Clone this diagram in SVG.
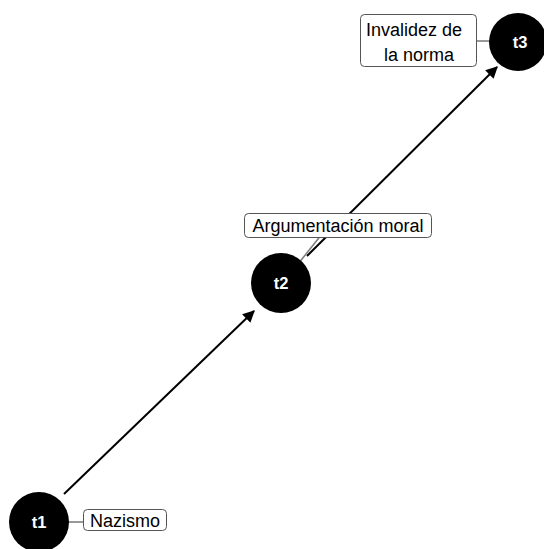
<svg xmlns="http://www.w3.org/2000/svg" width="544" height="549" viewBox="0 0 544 549">
<style>
.node{fill:#000}
.nl{fill:#fff;font-family:"Liberation Sans",Arial,sans-serif;font-weight:bold;font-size:16.5px;text-anchor:middle;dominant-baseline:central}
.edge{stroke:#000;stroke-width:2;fill:none}
.lead{stroke:#7f7f7f;stroke-width:1.6;fill:none}
.box{fill:#fff;stroke:#555;stroke-width:1}
.lt{font-family:"Liberation Sans",Arial,sans-serif;font-size:18px;fill:#000}
</style>
<defs>
<marker id="ah" viewBox="0 0 10 10" refX="9" refY="5" markerWidth="6" markerHeight="6" orient="auto" markerUnits="strokeWidth">
<path d="M0,0 L10,5 L0,10 z" fill="#000"/>
</marker>
</defs>
<g id="connectors">
<line class="edge" x1="64" y1="494" x2="254" y2="311" marker-end="url(#ah)"/>
<line class="edge" x1="307" y1="256" x2="497" y2="67" marker-end="url(#ah)"/>
<line class="lead" x1="57" y1="522" x2="83" y2="522"/>
<line class="lead" x1="322" y1="234" x2="298" y2="264"/>
<line class="lead" x1="476" y1="41" x2="503" y2="41"/>
</g>
<g id="t1">
<circle class="node" cx="39" cy="522" r="30"/>
<text class="nl" x="39" y="522">t1</text>
</g>
<g id="t2">
<circle class="node" cx="281" cy="283" r="30"/>
<text class="nl" x="281" y="283">t2</text>
</g>
<g id="t3">
<circle class="node" cx="518" cy="42" r="29"/>
<text class="nl" x="520" y="42">t3</text>
</g>
<g id="label-t1">
<rect class="box" x="83.5" y="509.5" width="83" height="21" rx="4"/>
<text class="lt" x="125" y="527" text-anchor="middle">Nazismo</text>
</g>
<g id="label-t2">
<rect class="box" x="244.5" y="213.5" width="187" height="24" rx="4"/>
<text class="lt" x="338" y="232" text-anchor="middle">Argumentación moral</text>
</g>
<g id="label-t3">
<rect class="box" x="360.5" y="14.5" width="116" height="52" rx="4"/>
<text class="lt" x="414" y="36" text-anchor="middle">Invalidez de</text>
<text class="lt" x="419" y="61" text-anchor="middle">la norma</text>
</g>
</svg>
